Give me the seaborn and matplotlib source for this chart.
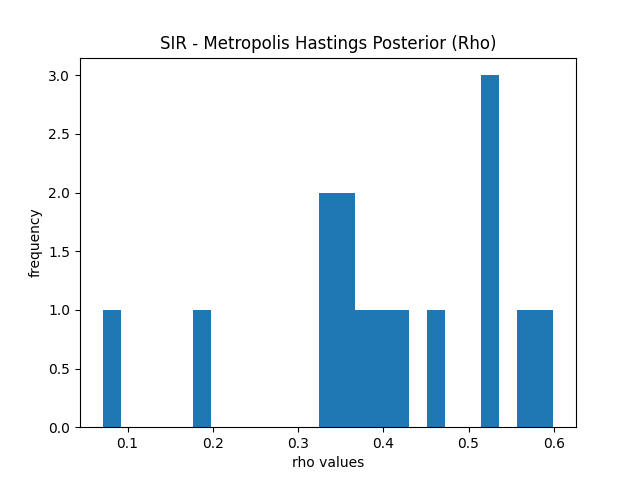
import matplotlib
matplotlib.use("Agg")
import matplotlib.pyplot as plt
import seaborn as sns
import pandas as pd

rho_values = [0.0706, 0.187, 0.333, 0.337, 0.353, 0.359, 0.377, 0.398, 0.419,
              0.462, 0.521, 0.525, 0.529, 0.567, 0.5996]
df = pd.DataFrame({"rho": rho_values})

fig, ax = plt.subplots(figsize=(6.4, 4.8), dpi=100)
sns.histplot(data=df, x="rho", bins=25, stat="count", color="#1f77b4",
             alpha=1.0, edgecolor="none", linewidth=0, ax=ax)
ax.set_title("SIR - Metropolis Hastings Posterior (Rho)")
ax.set_xlabel("rho values")
ax.set_ylabel("frequency")
ax.set_yticks([0.0, 0.5, 1.0, 1.5, 2.0, 2.5, 3.0])
ax.set_yticklabels(["0.0", "0.5", "1.0", "1.5", "2.0", "2.5", "3.0"])
fig.savefig("out.png", dpi=100)
